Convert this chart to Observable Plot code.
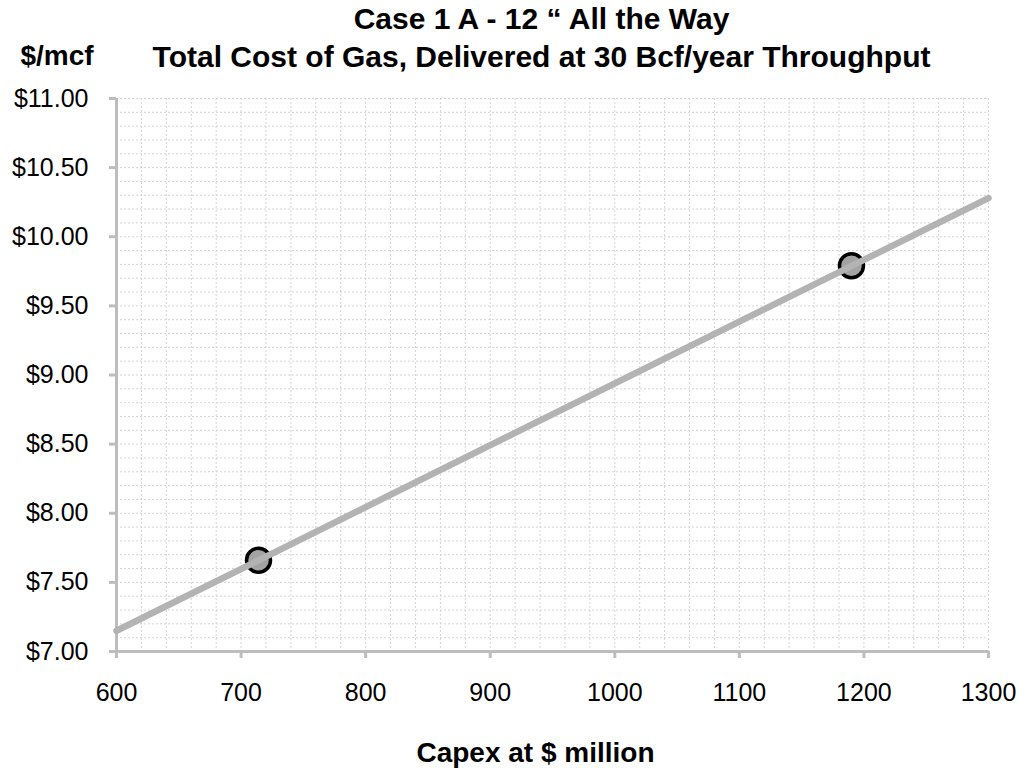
<!DOCTYPE html>
<html>
<head>
<meta charset="utf-8">
<script src="https://cdn.jsdelivr.net/npm/d3@7"></script>
<script src="https://cdn.jsdelivr.net/npm/@observablehq/plot@0.6"></script>
<style>
  html, body { margin: 0; padding: 0; background: #fff; }
  svg { font-family: "Liberation Sans", Arial, sans-serif; }
</style>
</head>
<body>
<div id="chart"></div>
<script>
// Data
const capex = [714, 1190];          // $ million
const costPerMcf = [7.66, 9.79];    // $/mcf
const trendCapex = [600, 1300];     // trend line end points
const trendCost = [7.15, 10.28];
const xTicks = [600, 700, 800, 900, 1000, 1100, 1200, 1300];
const yTicks = [7.0, 7.5, 8.0, 8.5, 9.0, 9.5, 10.0, 10.5, 11.0];
const titleLine1 = "Case 1 A - 12 \u201C All the Way";
const titleLine2 = "Total Cost of Gas, Delivered at 30 Bcf/year Throughput";
const yUnitLabel = "$/mcf";
const xAxisLabel = "Capex at $ million";

const points = capex.map((c, i) => ({capex: c, cost: costPerMcf[i]}));
const trend = trendCapex.map((c, i) => ({capex: c, cost: trendCost[i]}));

const gridColor = "#d4d4d4";
const axisColor = "#bdbdbd";
const bold = {fontWeight: "bold", fill: "#000", lineAnchor: "bottom"};

const chart = Plot.plot({
  width: 1018,
  height: 769,
  marginLeft: 116,
  marginRight: 30,
  marginTop: 98,
  marginBottom: 118,
  style: {fontFamily: "'Liberation Sans', Arial, sans-serif", background: "#fff", color: "#000"},
  x: {domain: [600, 1300]},
  y: {domain: [7, 11]},
  marks: [
    Plot.gridX({interval: 20, stroke: gridColor, strokeOpacity: 1, strokeDasharray: "2,2", strokeWidth: 1}),
    Plot.gridY({interval: 0.1, stroke: gridColor, strokeOpacity: 1, strokeDasharray: "2,2", strokeWidth: 1}),
    Plot.ruleX([600], {stroke: axisColor, strokeWidth: 3}),
    Plot.ruleY([7], {stroke: axisColor, strokeWidth: 3}),
    Plot.axisY({ticks: yTicks, tickFormat: d => "$" + d.toFixed(2), tickSize: 7, tickPadding: 21,
      stroke: axisColor, strokeWidth: 3, fill: "#000", fontSize: 25, label: null}),
    Plot.axisX({ticks: xTicks, tickFormat: d => String(d), tickSize: 7, tickPadding: 25,
      stroke: axisColor, strokeWidth: 3, fill: "#000", fontSize: 25, label: null}),
    Plot.dot(points, {x: "capex", y: "cost", r: 12, fill: "#a3a3a3", stroke: "#000", strokeWidth: 3.5}),
    Plot.line(trend, {x: "capex", y: "cost", stroke: "#b3b3b3", strokeWidth: 6.5}),
    Plot.text([titleLine1], {text: d => d, frameAnchor: "top", dx: -11, dy: -70, fontSize: 30, ...bold}),
    Plot.text([titleLine2], {text: d => d, frameAnchor: "top", dx: -11, dy: -32, fontSize: 30, ...bold}),
    Plot.text([yUnitLabel], {text: d => d, frameAnchor: "top-left", textAnchor: "start", dx: -96, dy: -34, fontSize: 28, ...bold}),
    Plot.text([xAxisLabel], {text: d => d, frameAnchor: "bottom", dx: -17, dy: 110, fontSize: 28, ...bold})
  ]
});
document.getElementById("chart").appendChild(chart);
</script>
</body>
</html>
